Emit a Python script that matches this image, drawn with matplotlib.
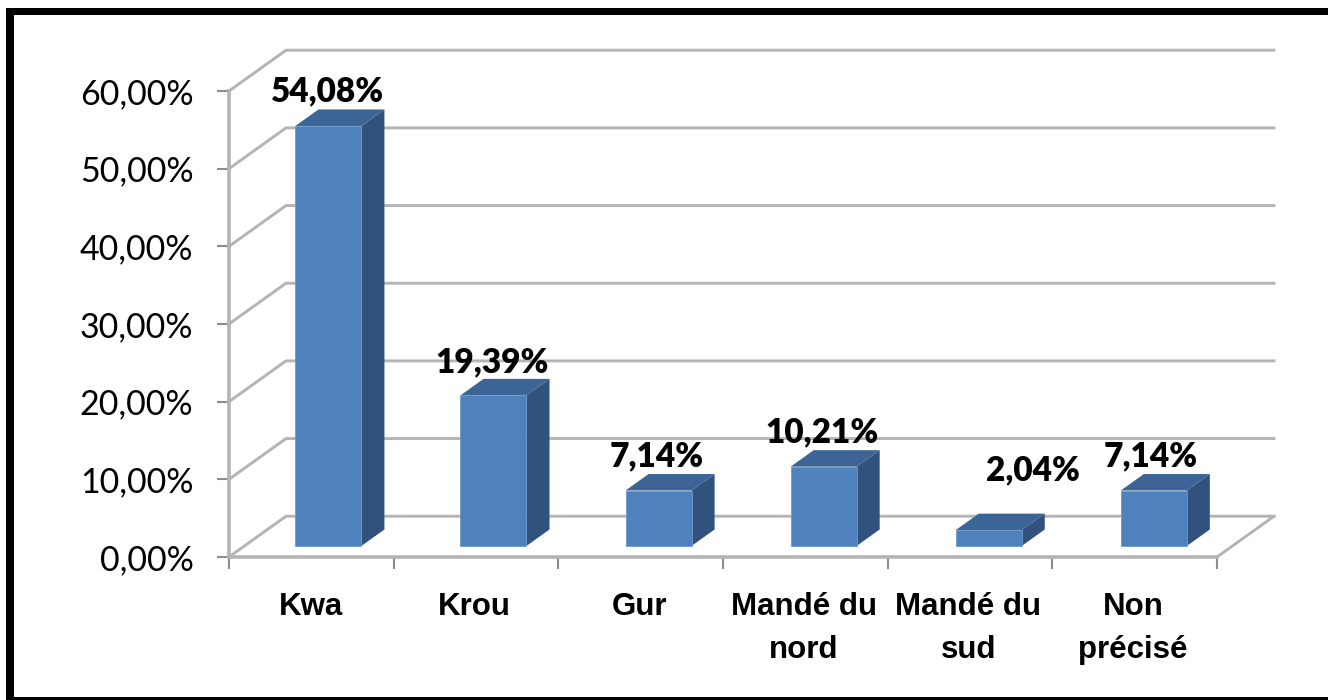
from matplotlib import pyplot as plt
from matplotlib.patches import Polygon, Rectangle
import numpy as np

categories = ['Kwa', 'Krou', 'Gur', 'Mandé du\nnord', 'Mandé du\nsud', 'Non\nprécisé']
values = [54.08, 19.39, 7.14, 10.21, 2.04, 7.14]
value_labels = ['54,08%', '19,39%', '7,14%', '10,21%', '2,04%', '7,14%']
y_ticks = [0, 10, 20, 30, 40, 50, 60]
y_labels = ['0,00%', '10,00%', '20,00%', '30,00%', '40,00%', '50,00%', '60,00%']

W, H = 1328, 700
# how far the back wall sits from the front plane, in data units
DX = 57 / 164.7
DY = 5.25

GRID = '#b4b4b4'
FRONT = '#4f81bd'
SIDE = '#31527c'
TOP = '#3c6595'


def project(x, y, d):
    return x + d*DX, y + d*DY


def box(ax, x0, x1, h, d0=0.27, d1=0.675):
    def p(x, y, d):
        return project(x, y, d)
    ax.add_patch(Polygon([p(x1, 0, d0), p(x1, 0, d1), p(x1, h, d1), p(x1, h, d0)],
                         fc=SIDE, ec='none', zorder=3))
    ax.add_patch(Polygon([p(x0, h, d0), p(x0, h, d1), p(x1, h, d1), p(x1, h, d0)],
                         fc=TOP, ec='none', zorder=3))
    ax.add_patch(Polygon([p(x0, 0, d0), p(x1, 0, d0), p(x1, h, d0), p(x0, h, d0)],
                         fc=FRONT, ec='#6f9bcf', lw=0.6, zorder=4))


fig = plt.figure(figsize=(W/100, H/100), dpi=100)
ax = fig.add_axes([229/W, 1 - 557/H, (1217 - 229)/W, (557 - 91)/H])
ax.set_xlim(0, 6)
ax.set_ylim(0, 60)
ax.patch.set_alpha(0)

for s in ['top', 'right']:
    ax.spines[s].set_visible(False)
for s in ['left', 'bottom']:
    ax.spines[s].set_color(GRID)
    ax.spines[s].set_linewidth(2.6)

# walls and gridlines
for t in y_ticks:
    bx, by = project(0, t, 1)
    ex, ey = project(6, t, 1)
    ax.plot([0, bx, ex], [t, by, ey], color=GRID, lw=2.1, clip_on=False, zorder=1)
fx, fy = project(6, 0, 1)
ax.plot([6, fx], [0, fy], color=GRID, lw=2.1, clip_on=False, zorder=1)

bar_w = 66 / 164.7
for i, v in enumerate(values):
    c = 0.51 + i*1.0025
    box(ax, c - bar_w/2, c + bar_w/2, v)

# value labels, placed by hand above each bar like the original
label_pos = [(0.6, 57.9), (1.6, 23.0), (2.6, 10.95), (3.6, 13.95), (4.88, 9.05), (5.6, 10.95)]
for (x, y), txt in zip(label_pos, value_labels):
    ax.text(x, y, txt, ha='center', va='bottom', family='Lato', weight='heavy',
            fontsize=24, color='black', clip_on=False, zorder=6)

ax.set_yticks(y_ticks)
ax.set_yticklabels(y_labels, family='Lato', fontsize=24.5, color='black')
ax.set_xticks(np.arange(0, 7))
ax.set_xticklabels([])
ax.tick_params(axis='y', length=8.6, width=1.5, color='#8c8c8c', pad=17)
ax.tick_params(axis='x', length=8.6, width=1.5, color='#8c8c8c')

cat_x = [0.495, 1.49, 2.49, 3.49, 4.49, 5.49]
for x, c in zip(cat_x, categories):
    ax.text(x, -4.45, c, ha='center', va='top', family='Liberation Sans', weight='bold',
            fontsize=22.5, color='black', linespacing=1.58, clip_on=False)

# black frame: left, top and bottom only, the right side is cut off
for x0, y0, x1, y1 in [(6, 8, 14, 700), (6, 8, W, 15), (6, 697, W, 700)]:
    fig.add_artist(Rectangle((x0/W, 1 - y1/H), (x1 - x0)/W, (y1 - y0)/H,
                             transform=fig.transFigure, fc='black', ec='none'))

fig.savefig('out.png', dpi=100)
